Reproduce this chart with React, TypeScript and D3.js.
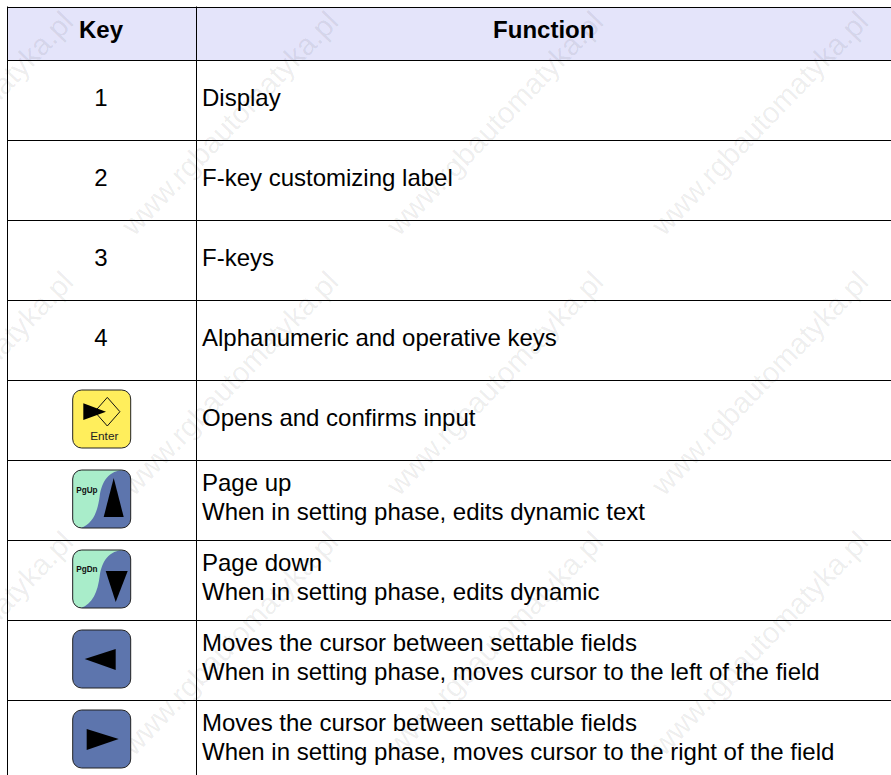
import React, { useRef, useEffect } from "react"
import * as d3 from "d3"

const WIDTH = 891
const HEIGHT = 775
const FONT = "'Liberation Sans', Arial, sans-serif"

const headers = ["Key", "Function"]
const keyLabels = ["1", "2", "3", "4", "enter", "pgup", "pgdn", "left", "right"]
const functionLines = [
  ["Display"],
  ["F-key customizing label"],
  ["F-keys"],
  ["Alphanumeric and operative keys"],
  ["Opens and confirms input"],
  ["Page up", "When in setting phase, edits dynamic text"],
  ["Page down", "When in setting phase, edits dynamic"],
  ["Moves the cursor between settable fields", "When in setting phase, moves cursor to the left of the field"],
  ["Moves the cursor between settable fields", "When in setting phase, moves cursor to the right of the field"],
]
const watermark = "www.rgbautomatyka.pl"
const watermarkCols = [0, 1, 2, 3]
const watermarkRows = [0, 1, 2]

const YELLOW = "#ffee5c"
const GREEN = "#a9edca"
const BLUE = "#5d75ad"
const KEY_SIZE = 58

type G = d3.Selection<SVGGElement, unknown, null, undefined>

const triangle = (g: G, pts: [number, number][]) => {
  g.append("path")
    .attr("d", d3.line()(pts) + "Z")
    .attr("fill", "#000")
}

const drawKey = (g: G, kind: string) => {
  const base = kind === "enter" ? YELLOW : BLUE
  g.append("rect")
    .attr("width", KEY_SIZE)
    .attr("height", KEY_SIZE)
    .attr("rx", 9)
    .attr("fill", base)

  if (kind === "pgup" || kind === "pgdn") {
    // green half with the s-shaped edge, clipped to the rounded body
    const clipId = `clip-${kind}`
    g.append("clipPath")
      .attr("id", clipId)
      .append("rect")
      .attr("width", KEY_SIZE)
      .attr("height", KEY_SIZE)
      .attr("rx", 9)
    g.append("path")
      .attr("d", "M0,0 L52,0 C36,0 29,12 27,26 C25,42 20,54 8,58 L0,58 Z")
      .attr("fill", GREEN)
      .attr("clip-path", `url(#${clipId})`)
    g.append("text")
      .attr("x", 3.5)
      .attr("y", kind === "pgup" ? 23 : 22)
      .attr("font-family", FONT)
      .attr("font-size", 8.2)
      .attr("font-weight", "bold")
      .attr("fill", "#111")
      .text(kind === "pgup" ? "PgUp" : "PgDn")
  }

  // outline on top of the fills
  g.append("rect")
    .attr("width", KEY_SIZE)
    .attr("height", KEY_SIZE)
    .attr("rx", 9)
    .attr("fill", "none")
    .attr("stroke", "#222")
    .attr("stroke-width", 1)

  if (kind === "enter") {
    g.append("path")
      .attr("d", d3.line()([[34.6, 7.4], [47.2, 21.7], [34.6, 36], [22, 21.7]]) + "Z")
      .attr("fill", "none")
      .attr("stroke", "#111")
      .attr("stroke-width", 1)
    triangle(g, [[10.6, 13.3], [33.3, 21.7], [10.6, 30]])
    g.append("text")
      .attr("x", 31.6)
      .attr("y", 50)
      .attr("text-anchor", "middle")
      .attr("font-family", FONT)
      .attr("font-size", 11.8)
      .attr("fill", "#222")
      .text("Enter")
  }
  if (kind === "pgup") triangle(g, [[41, 8], [51, 47], [31, 47]])
  if (kind === "pgdn") triangle(g, [[33, 21], [55, 21], [43, 52]])
  if (kind === "left") triangle(g, [[12, 29], [43, 19], [43, 40]])
  if (kind === "right") triangle(g, [[14, 19], [46, 29], [14, 40]])
}

const KeyTable: React.FC = () => {
  const svgRef = useRef<SVGSVGElement | null>(null)

  useEffect(() => {
    if (!svgRef.current) return

    const svg = d3.select(svgRef.current)
    svg.selectAll("*").remove()

    const left = 7.5
    const split = 196.5
    const top = 7.5
    const headerBottom = 60.5
    const keyX = 101

    const rowY = d3.scaleLinear().domain([0, keyLabels.length]).range([headerBottom, headerBottom + 720])

    // header band
    svg
      .append("rect")
      .attr("x", left)
      .attr("y", top)
      .attr("width", WIDTH - left)
      .attr("height", headerBottom - top)
      .attr("fill", "#e4e4fa")

    // watermark goes under the table text
    const wmX = d3.scaleLinear().domain([0, 1]).range([-131, 134])
    const wmY = d3.scaleLinear().domain([0, 1]).range([237, 497])
    watermarkRows.forEach((r) => {
      watermarkCols.forEach((c) => {
        svg
          .append("text")
          .attr("transform", `translate(${wmX(c)},${wmY(r)}) rotate(-46)`)
          .attr("font-family", FONT)
          .attr("font-size", 29.5)
          .attr("fill", "#000")
          .attr("fill-opacity", 0.08)
          .text(watermark)
      })
    })

    // grid lines
    const lines = svg.append("g").attr("stroke", "#000").attr("stroke-width", 1)
    ;[top, ...d3.range(keyLabels.length + 1).map((i) => rowY(i))].forEach((y) => {
      lines.append("line").attr("x1", left).attr("x2", WIDTH).attr("y1", y).attr("y2", y)
    })
    ;[left, split].forEach((x) => {
      lines.append("line").attr("x1", x).attr("x2", x).attr("y1", top - 1).attr("y2", HEIGHT)
    })

    const text = svg
      .append("g")
      .attr("font-family", FONT)
      .attr("font-size", 24)
      .attr("fill", "#000")

    // header text
    headers.forEach((h, i) => {
      text
        .append("text")
        .attr("x", i === 0 ? keyX : (split + WIDTH) / 2)
        .attr("y", 38)
        .attr("text-anchor", "middle")
        .attr("font-weight", "bold")
        .text(h)
    })

    keyLabels.forEach((k, i) => {
      const y = rowY(i)
      if (k.length === 1) {
        text.append("text").attr("x", keyX).attr("y", y + 45).attr("text-anchor", "middle").text(k)
      } else {
        const g = svg.append("g").attr("transform", `translate(72.7,${y + 9.5})`) as unknown as G
        drawKey(g, k)
      }
      const rows = functionLines[i]
      rows.forEach((line, j) => {
        text
          .append("text")
          .attr("x", 202)
          .attr("y", rows.length === 1 ? y + 45 : y + 30 + j * 29)
          .text(line)
      })
    })
  }, [])

  return (
    <svg
      ref={svgRef}
      width={WIDTH}
      height={HEIGHT}
      style={{ position: "absolute", left: 0, top: 0, background: "#fff" }}
    ></svg>
  )
}

export default function App() {
  return <KeyTable />
}
